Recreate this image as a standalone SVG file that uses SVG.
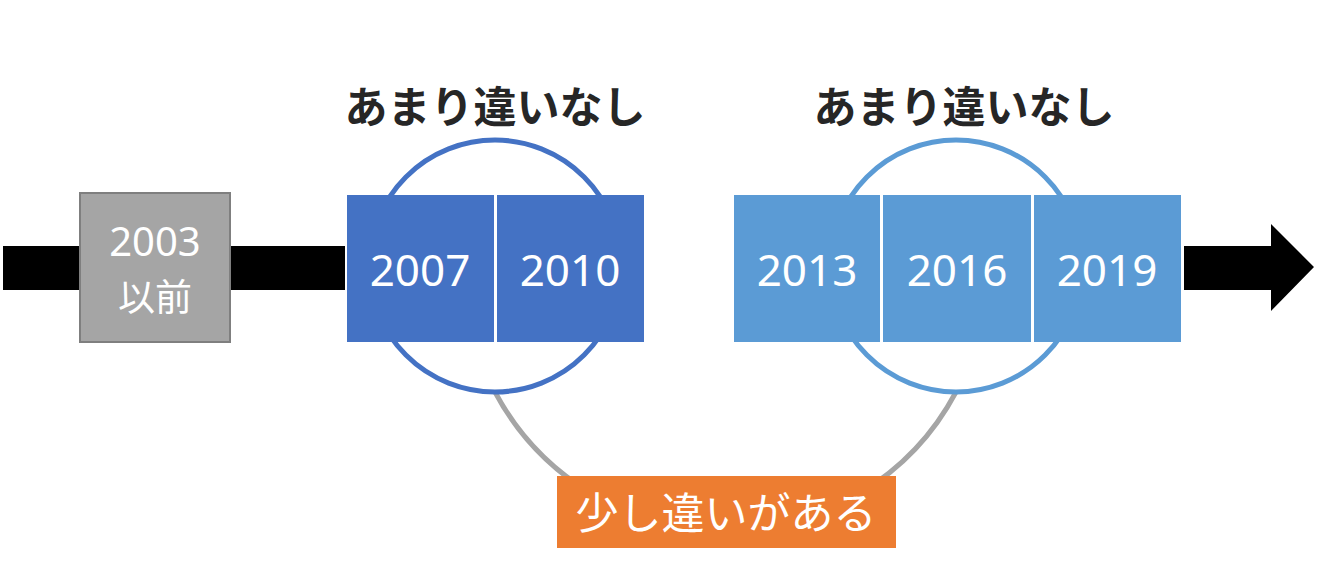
<svg xmlns="http://www.w3.org/2000/svg" width="1319" height="572" viewBox="0 0 1319 572">
<style>
.title{font-family:"Noto Sans CJK JP","Noto Sans",sans-serif;font-weight:bold;font-size:43px;fill:#262626;text-anchor:middle}
.yr{font-family:"Noto Sans","Noto Sans CJK JP",sans-serif;font-size:44px;fill:#ffffff;text-anchor:middle}
.lbl{font-family:"Noto Sans CJK JP",sans-serif;font-size:42px;fill:#ffffff;text-anchor:middle}
.b1{fill:#4472C4}
.b2{fill:#5B9BD5}
.ring{fill:none;stroke-width:5}
</style>
<rect width="1319" height="572" fill="#ffffff"/>
<g id="connectors">
<rect x="3" y="246" width="342" height="44" fill="#000000"/>
<path d="M1184,246 H1271 V224 L1314,267 L1271,311 V290 H1184 Z" fill="#000000"/>
<path d="M495,392 A261,261 0 0 0 956,392" class="ring" stroke="#A5A5A5"/>
<circle cx="495" cy="266" r="126" class="ring" stroke="#4472C4"/>
<circle cx="956" cy="266" r="126" class="ring" stroke="#5B9BD5"/>
</g>
<g id="n2003">
<rect x="80" y="193" width="150" height="149" fill="#A5A5A5" stroke="#7F7F7F" stroke-width="2"/>
<text x="155" y="256" class="yr" style="font-size:40px">2003</text>
<text x="155" y="311" class="lbl" style="font-size:37px">以前</text>
</g>
<g id="n2007"><rect x="347" y="195" width="147" height="147" class="b1"/><text x="420" y="286" class="yr">2007</text></g>
<g id="n2010"><rect x="497" y="195" width="147" height="147" class="b1"/><text x="570" y="286" class="yr">2010</text></g>
<g id="n2013"><rect x="734" y="195" width="146" height="147" class="b2"/><text x="807" y="286" class="yr">2013</text></g>
<g id="n2016"><rect x="883" y="195" width="148" height="147" class="b2"/><text x="957" y="286" class="yr">2016</text></g>
<g id="n2019"><rect x="1034" y="195" width="147" height="147" class="b2"/><text x="1107" y="286" class="yr">2019</text></g>
<g id="title1"><text x="495" y="123" class="title">あまり違いなし</text></g>
<g id="title2"><text x="964" y="123" class="title">あまり違いなし</text></g>
<g id="label">
<rect x="557" y="476" width="339" height="72" fill="#ED7D31"/>
<text x="726" y="529" class="lbl" style="font-size:43px">少し違いがある</text>
</g>
</svg>
